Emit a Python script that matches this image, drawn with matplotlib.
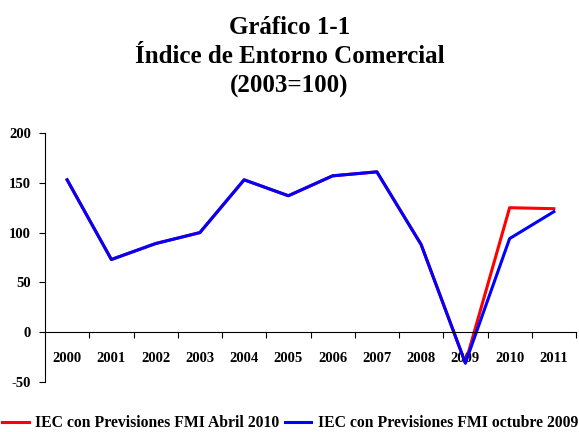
import matplotlib.pyplot as plt

years = ['2000', '2001', '2002', '2003', '2004', '2005', '2006', '2007',
         '2008', '2009', '2010', '2011']
iec_abril_2010 = [153, 73, 89, 100, 153, 137, 157, 161, 88, -31, 125, 124]
iec_octubre_2009 = [153, 73, 89, 100, 153, 137, 157, 161, 88, -31, 94, 121]

plt.rcParams['font.family'] = ['Liberation Serif', 'DejaVu Serif']
plt.rcParams['font.weight'] = 'bold'
plt.rcParams['axes.unicode_minus'] = False

fig = plt.figure(figsize=(5.79, 4.32), dpi=100)
ax = fig.add_axes([45/579, 1 - 382/432, (576 - 45)/579, (382 - 133)/432])

x = list(range(len(years)))
ax.plot(x, iec_abril_2010, color='#ff0000', lw=2.2, label='IEC con Previsiones FMI Abril 2010')
ax.plot(x, iec_octubre_2009, color='#0000ff', lw=2.2, label='IEC con Previsiones FMI octubre 2009')

ax.set_xlim(-0.5, len(years) - 0.5)
ax.set_ylim(-50, 200)
ax.set_yticks([-50, 0, 50, 100, 150, 200])

ax.set_xticks(x)
ax.set_xticklabels(years)
ax.set_xticks([i + 0.5 for i in x], minor=True)
ax.tick_params(axis='x', which='major', length=0, pad=14, labelsize=10.5)
ax.tick_params(axis='x', which='minor', length=4, direction='out', width=0.8)
ax.tick_params(axis='y', length=4, width=0.8, labelsize=10.5, pad=6)
for lbl in ax.get_xticklabels() + ax.get_yticklabels():
    lbl.set_fontweight('bold')

ax.spines['top'].set_visible(False)
ax.spines['right'].set_visible(False)
ax.spines['bottom'].set_position(('data', 0))

fig.text(0.5, 1 - 57/432, 'Gráfico 1-1\nÍndice de Entorno Comercial\n(2003=100)',
         ha='center', va='center', fontsize=18, fontweight='bold', linespacing=1.35)

fig.legend(loc='center left', bbox_to_anchor=(2/579, 1 - 423/432), ncol=2, frameon=False,
           prop={'weight': 'bold', 'size': 11.3}, handlelength=1.7, handletextpad=0.4,
           columnspacing=0.35, borderpad=0, borderaxespad=0)

plt.savefig('out.png')
